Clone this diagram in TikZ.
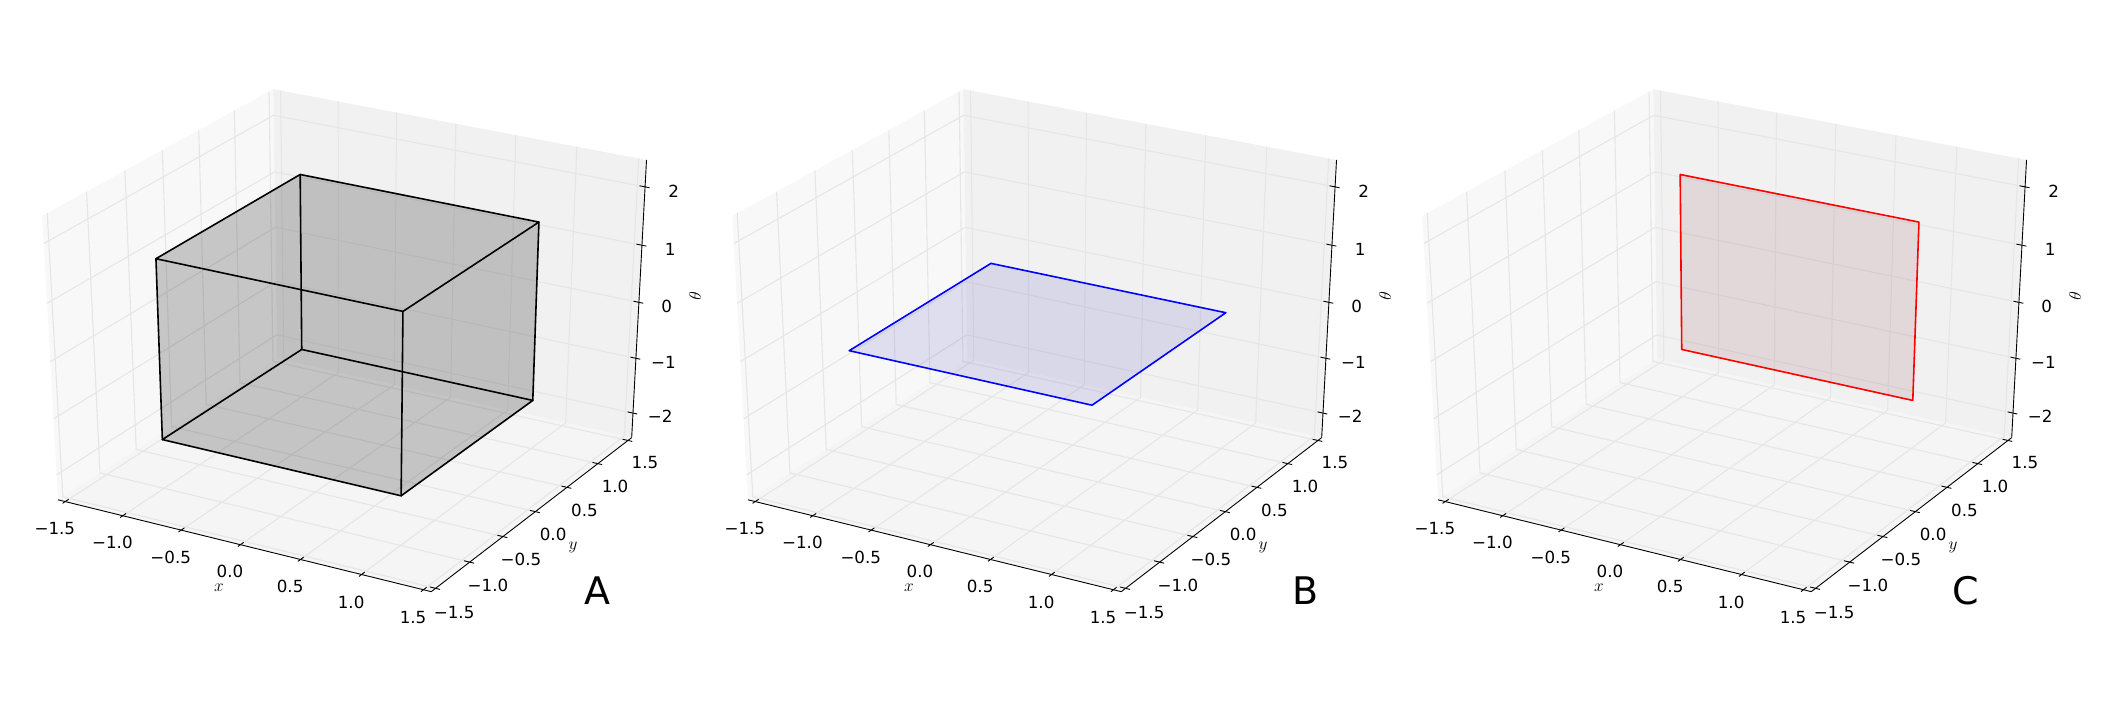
\documentclass[tikz,border=0pt]{standalone}
\usepackage{fontspec}
\newfontfamily\djv{DejaVu Sans}
\definecolor{gridc}{RGB}{230,230,230}
\definecolor{paneX}{RGB}{248,248,248}
\definecolor{paneY}{RGB}{241,241,241}
\definecolor{paneZ}{RGB}{245,245,245}
\definecolor{bluefill}{RGB}{40,40,175}
\definecolor{redfill}{RGB}{130,40,45}
\tikzset{
  gridl/.style={draw=gridc, line width=1.1pt},
  axl/.style={draw=black, line width=0.9pt},
  tickl/.style={draw=black, line width=0.9pt},
  ticklab/.style={font=\djv\fontsize{16.7}{20}\selectfont, inner sep=0pt, anchor=center},
  axlab/.style={font=\fontsize{16.7}{20}\selectfont, inner sep=0pt, anchor=center},
  panlab/.style={font=\djv\fontsize{38}{44}\selectfont, inner sep=0pt, anchor=center},
  cubeedge/.style={draw=black, line width=1.6pt, line join=round, line cap=round},
  planeedge/.style={line width=1.6pt, line join=round, line cap=round},
}
% projection of normalized coordinates (a,b,c), centre at 0, limits +-0.5
\newcommand\pj[4]{%
  \pgfmathsetmacro\pjd{10-0.4330127*(#2)+0.75*(#3)-0.5*(#4)}%
  \pgfmathsetmacro\pjx{349.5+4135*(0.8660254*(#2)+0.5*(#3))/\pjd}%
  \pgfmathsetmacro\pjy{331.5-3110*(-0.25*(#2)+0.4330127*(#3)+0.8660254*(#4))/\pjd}%
  \coordinate (#1) at (\pjx,-\pjy);}
\def\pe{0.5208333}
\def\sf{0.0583333}
\newcommand\drawpanel[1]{%
  \pj{#1p000}{-\pe}{-\pe}{-\pe}\pj{#1p100}{\pe}{-\pe}{-\pe}%
  \pj{#1p010}{-\pe}{\pe}{-\pe}\pj{#1p110}{\pe}{\pe}{-\pe}%
  \pj{#1p001}{-\pe}{-\pe}{\pe}\pj{#1p101}{\pe}{-\pe}{\pe}%
  \pj{#1p011}{-\pe}{\pe}{\pe}\pj{#1p111}{\pe}{\pe}{\pe}%
  % panes
  \fill[paneX] (#1p000) -- (#1p010) -- (#1p011) -- (#1p001) -- cycle;
  \fill[paneY] (#1p010) -- (#1p110) -- (#1p111) -- (#1p011) -- cycle;
  \fill[paneZ] (#1p000) -- (#1p100) -- (#1p110) -- (#1p010) -- cycle;
  % grid lines
  \foreach \v in {-1.5,-1.0,-0.5,0.0,0.5,1.0,1.5}{%
    \pgfmathsetmacro\av{\v/3}%
    \pj{#1ga}{\av}{-\pe}{-\pe}\pj{#1gb}{\av}{\pe}{-\pe}\pj{#1gc}{\av}{\pe}{\pe}%
    \draw[gridl] (#1ga) -- (#1gb) -- (#1gc);
    \pj{#1ha}{\pe}{\av}{-\pe}\pj{#1hb}{-\pe}{\av}{-\pe}\pj{#1hc}{-\pe}{\av}{\pe}%
    \draw[gridl] (#1ha) -- (#1hb) -- (#1hc);
  }
  \foreach \v in {-2,-1,0,1,2}{%
    \pgfmathsetmacro\cv{\v/4.712389}%
    \pj{#1ka}{-\pe}{-\pe}{\cv}\pj{#1kb}{-\pe}{\pe}{\cv}\pj{#1kc}{\pe}{\pe}{\cv}%
    \draw[gridl] (#1ka) -- (#1kb) -- (#1kc);
  }
  % axis lines
  \draw[axl] (#1p000) -- (#1p100);
  \draw[axl] (#1p100) -- (#1p110);
  \draw[axl] (#1p110) -- (#1p111);
  % ticks and tick labels
  \foreach \v/\t in {-1.5/{−1.5},-1.0/{−1.0},-0.5/{−0.5},0.0/{0.0},0.5/{0.5},1.0/{1.0},1.5/{1.5}}{%
    \pgfmathsetmacro\av{\v/3}%
    \pj{#1xa}{\av}{-\pe-0.012}{-\pe}\pj{#1xb}{\av}{-\pe+0.015}{-\pe}%
    \draw[tickl] (#1xa) -- (#1xb);
    \pj{#1xl}{\av}{-\pe-\sf}{-\pe-\sf}%
    \node[ticklab] (#1xt) at ([shift={(2,-3)}]#1xl) {\t};
    \pj{#1ya}{\pe+0.012}{\av}{-\pe}\pj{#1yb}{\pe-0.015}{\av}{-\pe}%
    \draw[tickl] (#1ya) -- (#1yb);
    \pj{#1yl}{\pe+\sf}{\av}{-\pe-\sf}%
    \node[ticklab] (#1yt) at ([shift={(-3,-3)}]#1yl) {\t};
  }
  \foreach \v/\t in {-2/{−2},-1/{−1},0/{0},1/{1},2/{2}}{%
    \pgfmathsetmacro\cv{\v/4.712389}%
    \pj{#1za}{\pe+0.012}{\pe}{\cv}\pj{#1zb}{\pe-0.015}{\pe}{\cv}%
    \draw[tickl] (#1za) -- (#1zb);
    \pj{#1zl}{\pe+\sf}{\pe+\sf}{\cv}%
    \node[ticklab] (#1zt) at ([shift={(-4,-7)}]#1zl) {\t};
  }
  % axis labels
  \node[axlab] (#1xlab) at (219,-588) {$x$};
  \node[axlab] (#1ylab) at (573,-547) {$y$};
  \node[axlab, rotate=87] (#1zlab) at (695,-296) {$\theta$};
  % data corners (cube of half side 1/3 in normalized units)
  \def\q{0.3333333}%
  \pj{#1c000}{-\q}{-\q}{-\q}\pj{#1c100}{\q}{-\q}{-\q}%
  \pj{#1c010}{-\q}{\q}{-\q}\pj{#1c110}{\q}{\q}{-\q}%
  \pj{#1c001}{-\q}{-\q}{\q}\pj{#1c101}{\q}{-\q}{\q}%
  \pj{#1c011}{-\q}{\q}{\q}\pj{#1c111}{\q}{\q}{\q}%
  \pj{#1m00}{-\q}{-\q}{0}\pj{#1m10}{\q}{-\q}{0}%
  \pj{#1m01}{-\q}{\q}{0}\pj{#1m11}{\q}{\q}{0}%
}
\begin{document}
\begin{tikzpicture}[x=1pt,y=1pt]
\fill[white] (0,0) rectangle (2107,-706);
\useasboundingbox (0,0) rectangle (2107,-706);
% Panel A
\begin{scope}
  \drawpanel{A}
  \fill[black, fill opacity=0.2] (Ac001) -- (Ac011) -- (Ac111) -- (Ac110) -- (Ac100) -- (Ac000) -- cycle;
  \draw[cubeedge] (Ac000) -- (Ac100) -- (Ac110) -- (Ac010) -- cycle;
  \draw[cubeedge] (Ac001) -- (Ac101) -- (Ac111) -- (Ac011) -- cycle;
  \draw[cubeedge] (Ac000) -- (Ac001);
  \draw[cubeedge] (Ac100) -- (Ac101);
  \draw[cubeedge] (Ac110) -- (Ac111);
  \draw[cubeedge] (Ac010) -- (Ac011);
\end{scope}
% Panel B
\begin{scope}[xshift=690pt]
  \drawpanel{B}
  \fill[bluefill, fill opacity=0.12] (Bm00) -- (Bm10) -- (Bm11) -- (Bm01) -- cycle;
  \draw[planeedge, blue] (Bm00) -- (Bm10) -- (Bm11) -- (Bm01) -- cycle;
\end{scope}
% Panel C
\begin{scope}[xshift=1380pt]
  \drawpanel{C}
  \fill[redfill, fill opacity=0.12] (Cc010) -- (Cc110) -- (Cc111) -- (Cc011) -- cycle;
  \draw[planeedge, red] (Cc010) -- (Cc110) -- (Cc111) -- (Cc011) -- cycle;
\end{scope}
\node[panlab] (labA) at (597,-590.5) {A};
\node[panlab] (labB) at (1306,-590.5) {B};
\node[panlab] (labC) at (1966,-590.5) {C};
\end{tikzpicture}
\end{document}
